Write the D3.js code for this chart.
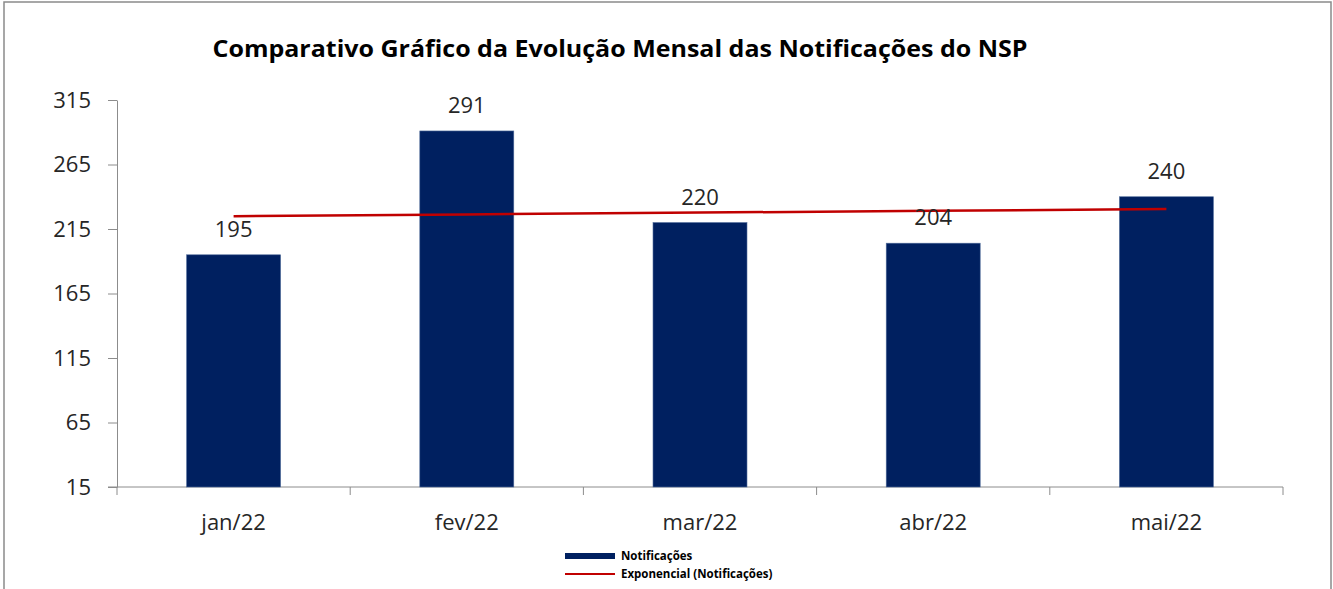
<!DOCTYPE html>
<html>
<head>
<meta charset="utf-8">
<script src="https://cdn.jsdelivr.net/npm/d3@7"></script>
<style>
  body { margin: 0; background: #fff; }
  svg { display: block; font-family: 'Open Sans', 'Liberation Sans', sans-serif; }
</style>
</head>
<body>
<svg id="chart" width="1333" height="589"></svg>
<script>
// Data
const months = ['jan/22', 'fev/22', 'mar/22', 'abr/22', 'mai/22'];
const notificacoes = [195, 291, 220, 204, 240];
// exponential trendline values
const tendencia = [224.9, 226.3, 227.7, 229.1, 230.5];
const yTicks = [15, 65, 115, 165, 215, 265, 315];

const svg = d3.select('#chart');
const axisColor = '#8c8c8c';

// outer frame
svg.append('rect')
  .attr('x', 4).attr('y', 2)
  .attr('width', 1327).attr('height', 600)
  .attr('fill', 'none')
  .attr('stroke', '#8a8a8a')
  .attr('stroke-width', 1.5);

// Title
svg.append('text')
  .attr('x', 620)
  .attr('y', 57)
  .attr('text-anchor', 'middle')
  .attr('font-size', '23px')
  .attr('font-weight', 'bold')
  .attr('fill', '#000')
  .attr('textLength', 815)
  .attr('lengthAdjust', 'spacingAndGlyphs')
  .text('Comparativo Gráfico da Evolução Mensal das Notificações do NSP');

// Scales
const plotLeft = 117, plotRight = 1283, plotTop = 100, plotBottom = 487;
const x = d3.scaleBand().domain(months).range([plotLeft, plotRight]).padding(0);
const y = d3.scaleLinear().domain([15, 315]).range([plotBottom, plotTop]);
const barW = x.bandwidth() * 0.403;

// Y axis
const yAxis = svg.append('g')
  .attr('transform', `translate(${plotLeft},0)`)
  .call(d3.axisLeft(y).tickValues(yTicks).tickSize(9).tickSizeOuter(0).tickPadding(17));
yAxis.select('.domain').attr('stroke', axisColor);
yAxis.selectAll('.tick line').attr('stroke', axisColor);
yAxis.selectAll('.tick text')
  .attr('font-size', '22px')
  .attr('fill', '#262626')
  .attr('font-family', "'Open Sans', sans-serif");

// X axis line
svg.append('line')
  .attr('x1', plotLeft - 9).attr('x2', plotRight)
  .attr('y1', plotBottom).attr('y2', plotBottom)
  .attr('stroke', axisColor);

// X ticks at category boundaries
const boundaries = months.map(m => x(m)).concat([plotRight]);
svg.append('g').selectAll('line')
  .data(boundaries)
  .join('line')
  .attr('x1', d => d).attr('x2', d => d)
  .attr('y1', plotBottom).attr('y2', plotBottom + 8)
  .attr('stroke', axisColor);

// X labels
svg.append('g').selectAll('text')
  .data(months)
  .join('text')
  .attr('x', d => x(d) + x.bandwidth() / 2)
  .attr('y', plotBottom + 43)
  .attr('text-anchor', 'middle')
  .attr('font-size', '22px')
  .attr('fill', '#262626')
  .text(d => d);

// Bars
svg.append('g').selectAll('rect')
  .data(notificacoes)
  .join('rect')
  .attr('x', (d, i) => x(months[i]) + x.bandwidth() / 2 - barW / 2)
  .attr('y', d => y(d))
  .attr('width', barW)
  .attr('height', d => plotBottom - y(d))
  .attr('fill', '#002060')
  .attr('stroke', '#4f6b9a')
  .attr('stroke-width', 0.6);

// Trendline
const line = d3.line()
  .x((d, i) => x(months[i]) + x.bandwidth() / 2)
  .y(d => y(d));
svg.append('path')
  .datum(tendencia)
  .attr('d', line)
  .attr('fill', 'none')
  .attr('stroke', '#c00000')
  .attr('stroke-width', 2.5);

// Data labels
svg.append('g').selectAll('text')
  .data(notificacoes)
  .join('text')
  .attr('x', (d, i) => x(months[i]) + x.bandwidth() / 2)
  .attr('y', d => y(d) - 18)
  .attr('text-anchor', 'middle')
  .attr('font-size', '22px')
  .attr('fill', '#262626')
  .text(d => d);

// Legend
const legend = svg.append('g');
legend.append('rect')
  .attr('x', 565).attr('y', 553)
  .attr('width', 50).attr('height', 6)
  .attr('fill', '#002060');
legend.append('line')
  .attr('x1', 565).attr('x2', 615)
  .attr('y1', 574).attr('y2', 574)
  .attr('stroke', '#c00000')
  .attr('stroke-width', 2);
legend.append('text')
  .attr('x', 621).attr('y', 560)
  .attr('font-size', '11.5px')
  .attr('font-weight', 'bold')
  .attr('fill', '#000')
  .text('Notificações');
legend.append('text')
  .attr('x', 621).attr('y', 578)
  .attr('font-size', '11.5px')
  .attr('font-weight', 'bold')
  .attr('fill', '#000')
  .text('Exponencial (Notificações)');
</script>
</body>
</html>
